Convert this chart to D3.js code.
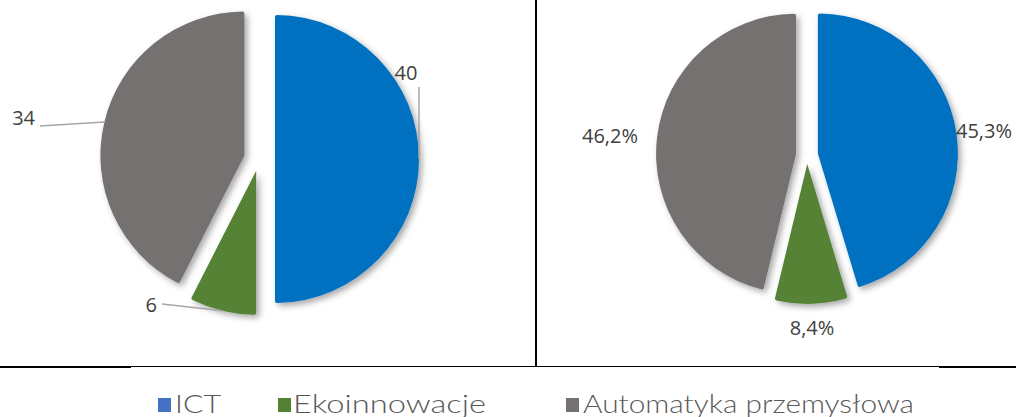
<!DOCTYPE html>
<html>
<head>
<meta charset="utf-8">
<script src="https://cdn.jsdelivr.net/npm/d3@7"></script>
<style>
  html, body { margin: 0; padding: 0; background: #fff; }
  svg { display: block; }
</style>
</head>
<body>
<svg id="chart" width="1016" height="417"></svg>
<script>
// ---- data ----
const categories = ["ICT", "Ekoinnowacje", "Automatyka przemysłowa"];
const leftValues = [40, 6, 34];
const leftLabels = ["40", "6", "34"];
const rightValues = [45.3, 8.4, 46.2];
const rightLabels = ["45,3%", "8,4%", "46,2%"];

// ---- styles ----
const colors = ["#0070C0", "#548235", "#767171"];
const legendColors = ["#4472C4", "#548235", "#767171"];
const svg = d3.select("#chart");

const defs = svg.append("defs");
const f = defs.append("filter").attr("id", "shadow")
  .attr("x", "-20%").attr("y", "-20%").attr("width", "140%").attr("height", "140%");
f.append("feDropShadow").attr("dx", 3).attr("dy", 3).attr("stdDeviation", 3)
  .attr("flood-color", "#000").attr("flood-opacity", 0.35);

const pie = d3.pie().sort(null).value(d => d);

function drawPie(values, cfg) {
  const arcs = pie(values);
  const arc = d3.arc().innerRadius(0).outerRadius(cfg.r).cornerRadius(2);
  const g = svg.append("g").attr("transform", `translate(${cfg.cx},${cfg.cy})`);
  g.selectAll("path.slice").data(arcs).enter().append("path")
    .attr("class", "slice")
    .attr("d", arc)
    .attr("fill", (d, i) => colors[i])
    .attr("filter", "url(#shadow)")
    .attr("transform", (d, i) => {
      const a = (d.startAngle + d.endAngle) / 2;
      const e = cfg.explode[i];
      return `translate(${e * Math.sin(a)},${-e * Math.cos(a)})`;
    });
  return { arcs, g };
}

// Left pie
const L = { cx: 259, cy: 159, r: 144, explode: [16, 12, 15] };
const left = drawPie(leftValues, L);
// Right pie
const R = { cx: 807, cy: 155, r: 140, explode: [11, 9, 11] };
const right = drawPie(rightValues, R);

const labelFont = "'Open Sans', 'Noto Sans', sans-serif";
const labelColor = "#404040";
const leaderColor = "#A6A6A6";

function edgePoint(cfg, d, i) {
  const a = (d.startAngle + d.endAngle) / 2;
  const rr = cfg.r + cfg.explode[i];
  return [cfg.cx + rr * Math.sin(a), cfg.cy - rr * Math.cos(a)];
}

// left labels with leader lines
const leftLabelPos = [
  { x: 406, y: 80, anchor: "middle", line: p => [[p[0], p[1]], [p[0], 87]] },
  { x: 157, y: 312, anchor: "end", line: p => [[p[0], p[1]], [162, 304]] },
  { x: 35, y: 125, anchor: "end", line: p => [[p[0], p[1]], [40, 126]] }
];
left.arcs.forEach((d, i) => {
  const p = edgePoint(L, d, i);
  const lp = leftLabelPos[i];
  svg.append("path")
    .attr("d", d3.line()(lp.line(p)))
    .attr("fill", "none").attr("stroke", leaderColor).attr("stroke-width", 1.5);
  svg.append("text")
    .attr("x", lp.x).attr("y", lp.y)
    .attr("text-anchor", lp.anchor)
    .attr("font-family", labelFont).attr("font-size", 20)
    .attr("fill", labelColor)
    .text(leftLabels[i]);
});

// right labels
const rightLabelPos = [
  { x: 984, y: 138 },
  { x: 812, y: 335 },
  { x: 610, y: 143 }
];
right.arcs.forEach((d, i) => {
  const lp = rightLabelPos[i];
  svg.append("text")
    .attr("x", lp.x).attr("y", lp.y)
    .attr("text-anchor", "middle")
    .attr("font-family", labelFont).attr("font-size", 20)
    .attr("fill", labelColor)
    .text(rightLabels[i]);
});

// separators
svg.append("line").attr("x1", 536).attr("x2", 536).attr("y1", 0).attr("y2", 367)
  .attr("stroke", "#000").attr("stroke-width", 2);
svg.append("line").attr("x1", 0).attr("x2", 131).attr("y1", 367).attr("y2", 367)
  .attr("stroke", "#000").attr("stroke-width", 2.2);
svg.append("line").attr("x1", 130).attr("x2", 940).attr("y1", 366.5).attr("y2", 366.5)
  .attr("stroke", "#000").attr("stroke-width", 1.2);
svg.append("line").attr("x1", 939).attr("x2", 1016).attr("y1", 367).attr("y2", 367)
  .attr("stroke", "#000").attr("stroke-width", 2.2);

// legend
const legendPos = [
  { sx: 158, tx: 175, w: 46 },
  { sx: 278, tx: 293, w: 193 },
  { sx: 566, tx: 583, w: 331 }
];
const lg = svg.append("g");
categories.forEach((c, i) => {
  const p = legendPos[i];
  lg.append("rect").attr("x", p.sx).attr("y", 398).attr("width", 13).attr("height", 14)
    .attr("fill", legendColors[i]);
  lg.append("text").attr("x", p.tx).attr("y", 413)
    .attr("font-family", "Lato, 'DejaVu Sans', sans-serif").attr("font-size", 25)
    .attr("font-weight", 300)
    .attr("fill", "#595959")
    .attr("textLength", p.w).attr("lengthAdjust", "spacingAndGlyphs")
    .text(c);
});
</script>
</body>
</html>
